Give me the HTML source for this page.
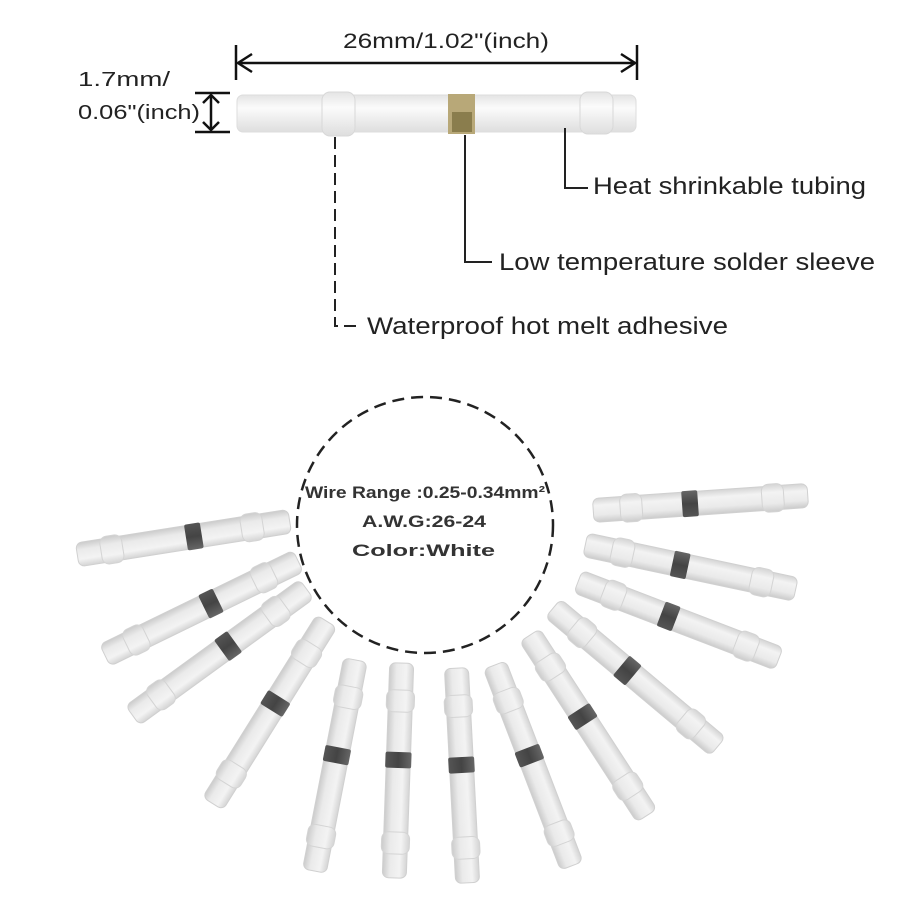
<!DOCTYPE html><html><head><style>body{margin:0;background:#fff}svg{display:block}</style></head><body>
<svg width="900" height="900" viewBox="0 0 900 900" xmlns="http://www.w3.org/2000/svg" font-family="Liberation Sans, sans-serif">
<defs>
<linearGradient id="g" x1="0" y1="0" x2="0" y2="1"><stop offset="0" stop-color="#d4d4d4"/><stop offset="0.3" stop-color="#f3f3f3"/><stop offset="0.7" stop-color="#eaeaea"/><stop offset="1" stop-color="#cbcbcb"/></linearGradient>
<linearGradient id="b" x1="0" y1="0" x2="0" y2="1"><stop offset="0" stop-color="#666"/><stop offset="0.5" stop-color="#444"/><stop offset="1" stop-color="#555"/></linearGradient>
<g id="t">
<rect x="-107" y="-12" width="215" height="24" rx="6" fill="url(#g)" stroke="#d0d0d0"/>
<rect x="-80" y="-14" width="22" height="28" rx="7" fill="url(#g)" stroke="#d4d4d4"/>
<rect x="62" y="-14" width="22" height="28" rx="7" fill="url(#g)" stroke="#d4d4d4"/>
<rect x="-18" y="-13" width="16" height="26" rx="2" fill="url(#b)"/>
</g>
<linearGradient id="tg" x1="0" y1="0" x2="0" y2="1"><stop offset="0" stop-color="#e4e4e4"/><stop offset="0.35" stop-color="#fbfbfb"/><stop offset="1" stop-color="#dedede"/></linearGradient>
</defs>
<rect x="237" y="95" width="399" height="37" rx="6" fill="url(#tg)" stroke="#ddd"/>
<rect x="322" y="92" width="33" height="44" rx="8" fill="url(#tg)" stroke="#d8d8d8"/>
<rect x="580" y="92" width="33" height="42" rx="8" fill="url(#tg)" stroke="#d8d8d8"/>
<rect x="448" y="94" width="27" height="40" fill="#b8a878"/>
<rect x="452" y="112" width="20" height="20" fill="#6a6030" opacity="0.6"/>
<g stroke="#111" stroke-width="2.5" fill="none">
<line x1="236" y1="45" x2="236" y2="80"/><line x1="637" y1="45" x2="637" y2="80"/>
<line x1="238" y1="63" x2="635" y2="63"/>
<polyline points="252,54 238,63 252,72"/><polyline points="621,54 635,63 621,72"/>
<line x1="195" y1="93" x2="230" y2="93"/><line x1="195" y1="132" x2="230" y2="132"/>
<line x1="211" y1="95" x2="211" y2="130"/>
<polyline points="203,103 211,95 219,103"/><polyline points="203,122 211,130 219,122"/>
</g>
<text x="343" y="48" font-size="21" textLength="206" lengthAdjust="spacingAndGlyphs" fill="#222">26mm/1.02"(inch)</text>
<text x="0" y="0" font-size="20" fill="#222" transform="translate(78,86) scale(1.38,1)">1.7mm/</text>
<text x="78" y="119" font-size="20" textLength="122" lengthAdjust="spacingAndGlyphs" fill="#222">0.06"(inch)</text>
<g stroke="#222" stroke-width="2" fill="none">
<path d="M335 137 V326 H360" stroke-dasharray="12,6"/>
<path d="M465 135 V262 H492"/>
<path d="M565 128 V188 H588"/>
</g>
<text x="367" y="334" font-size="24" textLength="361" lengthAdjust="spacingAndGlyphs" fill="#222">Waterproof hot melt adhesive</text>
<text x="499" y="270" font-size="24" textLength="376" lengthAdjust="spacingAndGlyphs" fill="#222">Low temperature solder sleeve</text>
<text x="593" y="194" font-size="24" textLength="273" lengthAdjust="spacingAndGlyphs" fill="#222">Heat shrinkable tubing</text>
<circle cx="425" cy="525" r="128" fill="none" stroke="#222" stroke-width="2.5" stroke-dasharray="12,7"/>
<g font-size="17" font-weight="bold" fill="#333">
<text x="305" y="498" textLength="240" lengthAdjust="spacingAndGlyphs">Wire Range :0.25-0.34mm²</text>
<text x="362" y="527" textLength="124" lengthAdjust="spacingAndGlyphs">A.W.G:26-24</text>
<text x="352" y="556" textLength="143" lengthAdjust="spacingAndGlyphs">Color:White</text>
</g>
<use href="#t" transform="translate(184,538) rotate(171)"/>
<use href="#t" transform="translate(202,608) rotate(154)"/>
<use href="#t" transform="translate(220,652) rotate(144)"/>
<use href="#t" transform="translate(270,712) rotate(122)"/>
<use href="#t" transform="translate(335,765) rotate(101)"/>
<use href="#t" transform="translate(398,770) rotate(92)"/>
<use href="#t" transform="translate(462,775) rotate(87)"/>
<use href="#t" transform="translate(533,765) rotate(69)"/>
<use href="#t" transform="translate(588,725) rotate(57)"/>
<use href="#t" transform="translate(635,677) rotate(40)"/>
<use href="#t" transform="translate(678,620) rotate(21)"/>
<use href="#t" transform="translate(690,567) rotate(12)"/>
<use href="#t" transform="translate(700,503) rotate(-4)"/>
</svg>
</body></html>
